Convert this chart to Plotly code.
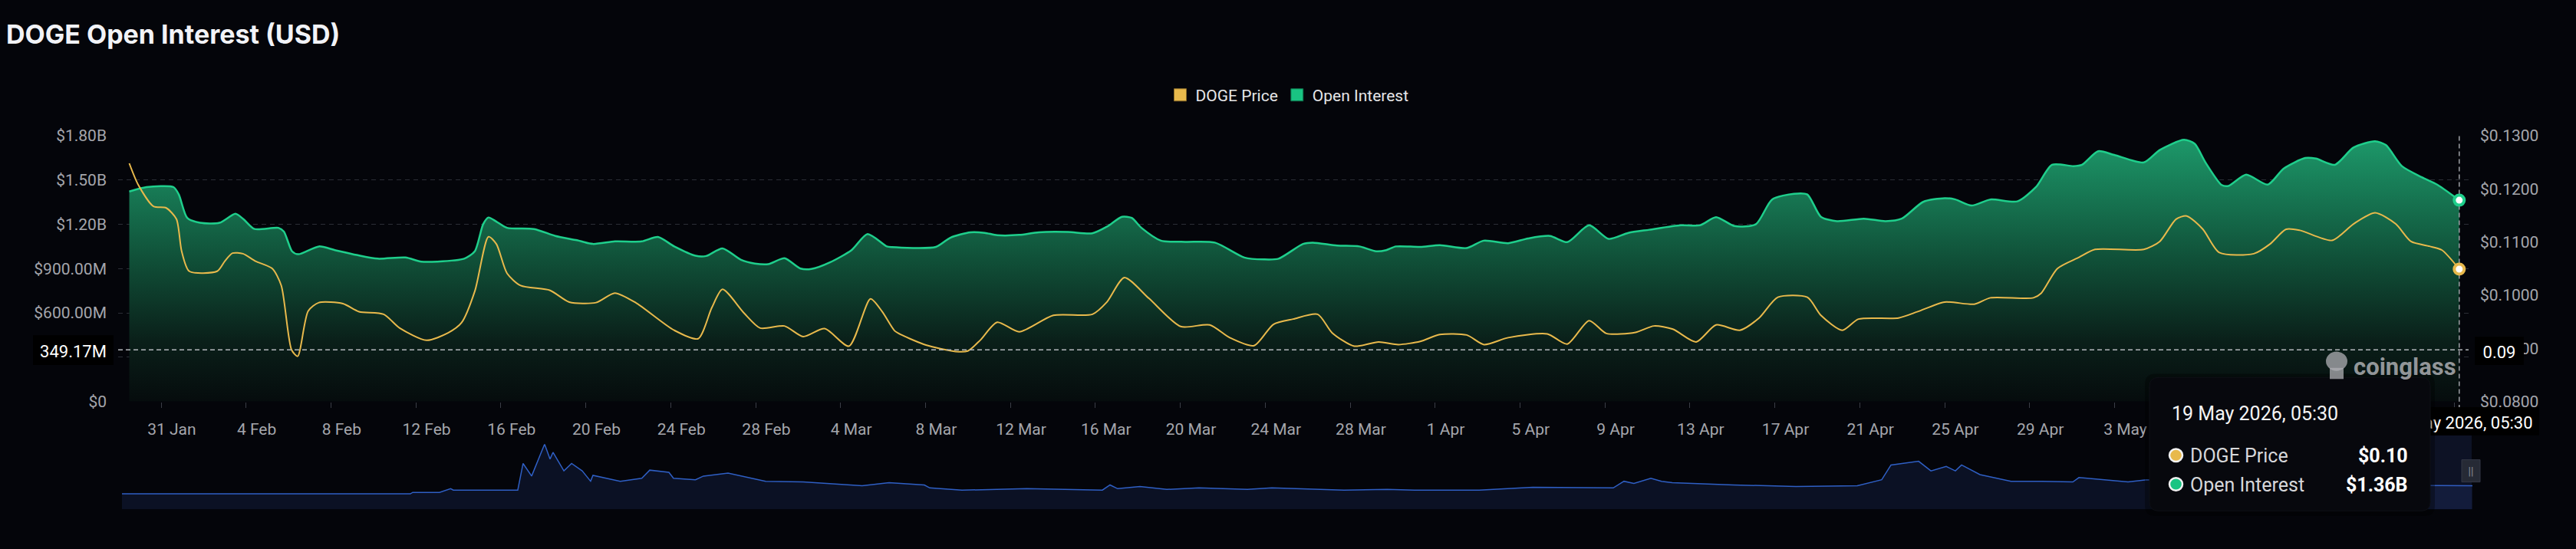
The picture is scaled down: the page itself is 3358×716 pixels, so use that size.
import pandas as pd
import plotly.graph_objects as go

# ---------------- data ----------------
oi_dates = [
    "2026-01-29 12:00", "2026-01-30 07:30", "2026-01-31 14:00", "2026-01-31 20:00", "2026-02-01 05:30",
    "2026-02-01 20:00", "2026-02-02 18:00", "2026-02-03 12:00", "2026-02-03 21:00", "2026-02-04 09:30",
    "2026-02-05 12:30", "2026-02-05 18:45", "2026-02-06 04:00", "2026-02-06 11:00", "2026-02-07 10:20",
    "2026-02-08 04:30", "2026-02-09 05:00", "2026-02-10 05:00", "2026-02-11 12:00", "2026-02-12 06:00",
    "2026-02-13 00:00", "2026-02-14 06:30", "2026-02-14 18:30", "2026-02-15 04:00", "2026-02-15 10:00",
    "2026-02-15 19:00", "2026-02-16 07:00", "2026-02-17 13:30", "2026-02-18 13:40", "2026-02-19 14:00",
    "2026-02-20 08:00", "2026-02-21 09:00", "2026-02-22 15:00", "2026-02-23 09:30", "2026-02-24 04:00",
    "2026-02-25 04:00", "2026-02-25 16:00", "2026-02-26 10:30", "2026-02-27 07:30", "2026-02-27 23:00",
    "2026-02-28 14:15", "2026-03-01 08:30", "2026-03-02 02:40", "2026-03-02 15:00", "2026-03-03 12:00",
    "2026-03-04 12:20", "2026-03-05 06:30", "2026-03-06 04:15", "2026-03-06 10:00", "2026-03-08 11:45",
    "2026-03-09 04:00", "2026-03-10 02:45", "2026-03-10 19:00", "2026-03-11 09:00", "2026-03-12 10:00",
    "2026-03-13 08:00", "2026-03-14 17:00", "2026-03-15 20:30", "2026-03-16 13:00", "2026-03-17 06:00",
    "2026-03-17 17:00", "2026-03-18 04:00", "2026-03-19 02:10", "2026-03-20 05:30", "2026-03-21 15:00",
    "2026-03-23 00:20", "2026-03-23 22:20", "2026-03-24 15:00", "2026-03-25 18:40", "2026-03-26 05:30",
    "2026-03-27 09:10", "2026-03-28 10:20", "2026-03-29 05:20", "2026-03-29 16:40", "2026-03-30 03:40",
    "2026-03-31 07:15", "2026-04-01 05:20", "2026-04-02 11:40", "2026-04-03 06:50", "2026-04-04 10:30",
    "2026-04-05 09:00", "2026-04-06 09:50", "2026-04-07 05:20", "2026-04-08 06:00", "2026-04-09 04:00",
    "2026-04-10 02:20", "2026-04-11 02:00", "2026-04-12 13:40", "2026-04-13 11:20", "2026-04-14 05:30",
    "2026-04-15 02:20", "2026-04-16 02:35", "2026-04-16 20:50", "2026-04-17 21:30", "2026-04-18 12:40",
    "2026-04-19 04:00", "2026-04-19 22:10", "2026-04-21 04:30", "2026-04-22 05:00", "2026-04-22 23:20",
    "2026-04-23 23:40", "2026-04-24 23:50", "2026-04-25 12:00", "2026-04-26 06:15", "2026-04-27 03:35",
    "2026-04-28 10:00", "2026-04-29 07:05", "2026-04-30 01:15", "2026-05-01 01:30", "2026-05-01 11:05",
    "2026-05-02 05:20", "2026-05-02 23:30", "2026-05-04 09:00", "2026-05-05 03:00", "2026-05-06 06:25",
    "2026-05-06 18:30", "2026-05-07 06:40", "2026-05-08 01:00", "2026-05-08 08:45", "2026-05-09 04:40",
    "2026-05-10 05:00", "2026-05-10 23:10", "2026-05-11 23:25", "2026-05-12 11:35", "2026-05-13 08:50",
    "2026-05-14 06:00", "2026-05-15 06:20", "2026-05-15 18:30", "2026-05-16 12:40", "2026-05-17 11:10",
    "2026-05-18 04:30", "2026-05-19 05:30",
]
oi_billions = [
    1.422, 1.452, 1.452, 1.402, 1.243, 1.210, 1.210, 1.271, 1.235, 1.168,
    1.176, 1.151, 1.017, 0.997, 1.050, 1.025, 0.992, 0.967, 0.975, 0.947,
    0.947, 0.967, 1.017, 1.201, 1.246, 1.218, 1.176, 1.168, 1.121, 1.092,
    1.067, 1.084, 1.084, 1.114, 1.050, 0.987, 0.985, 1.037, 0.959, 0.934,
    0.930, 0.970, 0.900, 0.897, 0.942, 1.025, 1.134, 1.050, 1.045, 1.047,
    1.109, 1.146, 1.142, 1.126, 1.128, 1.146, 1.148, 1.139, 1.184, 1.251,
    1.243, 1.176, 1.089, 1.081, 1.076, 0.975, 0.962, 0.967, 1.067, 1.076,
    1.056, 1.050, 1.017, 1.025, 1.050, 1.047, 1.059, 1.039, 1.089, 1.072,
    1.104, 1.121, 1.079, 1.193, 1.101, 1.142, 1.163, 1.193, 1.193, 1.248,
    1.188, 1.201, 1.368, 1.407, 1.402, 1.251, 1.221, 1.238, 1.221, 1.238,
    1.352, 1.377, 1.368, 1.327, 1.368, 1.355, 1.452, 1.603, 1.594, 1.603,
    1.695, 1.670, 1.619, 1.703, 1.773, 1.745, 1.619, 1.466, 1.460, 1.536,
    1.469, 1.578, 1.649, 1.645, 1.603, 1.720, 1.762, 1.737, 1.594, 1.519,
    1.469, 1.363,
]

price_dates = [
    "2026-01-29 12:00", "2026-01-29 22:00", "2026-01-30 15:20", "2026-01-31 05:50", "2026-01-31 17:20",
    "2026-01-31 23:10", "2026-02-01 07:50", "2026-02-02 15:20", "2026-02-03 00:00", "2026-02-03 08:40",
    "2026-02-03 20:30", "2026-02-04 10:40", "2026-02-05 05:40", "2026-02-05 15:50", "2026-02-06 03:25",
    "2026-02-06 10:20", "2026-02-06 22:10", "2026-02-07 10:20", "2026-02-08 13:30", "2026-02-09 07:40",
    "2026-02-10 11:30", "2026-02-11 05:40", "2026-02-12 12:00", "2026-02-13 12:20", "2026-02-14 03:30",
    "2026-02-14 18:40", "2026-02-15 10:00", "2026-02-15 19:00", "2026-02-16 07:00", "2026-02-16 22:20",
    "2026-02-18 07:40", "2026-02-19 05:20", "2026-02-20 11:40", "2026-02-21 08:50", "2026-02-22 09:10",
    "2026-02-24 03:50", "2026-02-25 07:00", "2026-02-25 22:20", "2026-02-26 10:30", "2026-02-27 11:00",
    "2026-02-28 05:10", "2026-03-01 08:30", "2026-03-02 05:40", "2026-03-03 06:00", "2026-03-04 09:30",
    "2026-03-05 09:45", "2026-03-05 23:00", "2026-03-06 13:00", "2026-03-06 21:10", "2026-03-08 00:30",
    "2026-03-09 10:00", "2026-03-09 23:45", "2026-03-10 13:40", "2026-03-11 09:00", "2026-03-12 10:00",
    "2026-03-14 00:25", "2026-03-15 20:40", "2026-03-16 13:00", "2026-03-17 08:45", "2026-03-18 12:25",
    "2026-03-20 00:20", "2026-03-21 09:15", "2026-03-22 07:50", "2026-03-23 11:20", "2026-03-24 09:10",
    "2026-03-25 07:30", "2026-03-26 11:10", "2026-03-27 03:40", "2026-03-28 04:35", "2026-03-29 08:00",
    "2026-03-30 06:25", "2026-03-31 07:15", "2026-04-01 05:20", "2026-04-02 11:40", "2026-04-03 07:10",
    "2026-04-04 10:30", "2026-04-06 06:45", "2026-04-07 05:20", "2026-04-08 06:00", "2026-04-09 01:30",
    "2026-04-10 10:30", "2026-04-11 07:20", "2026-04-12 04:40", "2026-04-13 07:00", "2026-04-14 05:30",
    "2026-04-15 08:25", "2026-04-16 06:05", "2026-04-17 03:20", "2026-04-18 12:40", "2026-04-19 04:00",
    "2026-04-20 04:15", "2026-04-20 22:30", "2026-04-22 19:50", "2026-04-23 17:30", "2026-04-24 23:50",
    "2026-04-26 09:20", "2026-04-27 03:35", "2026-04-29 04:15", "2026-04-29 13:10", "2026-04-30 07:20",
    "2026-05-01 07:40", "2026-05-02 01:50", "2026-05-04 09:00", "2026-05-05 03:00", "2026-05-05 21:25",
    "2026-05-06 09:30", "2026-05-07 03:45", "2026-05-07 22:20", "2026-05-09 13:20", "2026-05-10 07:30",
    "2026-05-11 01:45", "2026-05-11 17:20", "2026-05-13 05:45", "2026-05-14 06:00", "2026-05-15 06:20",
    "2026-05-16 05:45", "2026-05-16 23:00", "2026-05-17 19:50", "2026-05-18 09:45", "2026-05-19 05:30",
]
price_usd = [
    0.1248, 0.1208, 0.1167, 0.1164, 0.1143, 0.1083, 0.1045, 0.1045, 0.1064, 0.1079,
    0.1078, 0.1064, 0.1050, 0.1018, 0.0897, 0.0885, 0.0970, 0.0986, 0.0984, 0.0969,
    0.0964, 0.0938, 0.0915, 0.0929, 0.0948, 0.1008, 0.1110, 0.1096, 0.1041, 0.1018,
    0.1009, 0.0987, 0.0986, 0.1004, 0.0985, 0.0934, 0.0918, 0.0976, 0.1011, 0.0966,
    0.0938, 0.0942, 0.0922, 0.0937, 0.0904, 0.0993, 0.0969, 0.0933, 0.0925, 0.0906,
    0.0894, 0.0895, 0.0915, 0.0949, 0.0931, 0.0962, 0.0964, 0.0987, 0.1033, 0.0994,
    0.0941, 0.0944, 0.0920, 0.0905, 0.0945, 0.0955, 0.0964, 0.0929, 0.0904, 0.0912,
    0.0907, 0.0913, 0.0926, 0.0925, 0.0907, 0.0920, 0.0927, 0.0908, 0.0952, 0.0928,
    0.0930, 0.0942, 0.0936, 0.0912, 0.0944, 0.0934, 0.0957, 0.0996, 0.0996, 0.0962,
    0.0934, 0.0955, 0.0957, 0.0969, 0.0987, 0.0983, 0.0995, 0.0995, 0.1004, 0.1050,
    0.1071, 0.1086, 0.1086, 0.1101, 0.1143, 0.1149, 0.1124, 0.1080, 0.1078, 0.1096,
    0.1124, 0.1122, 0.1103, 0.1134, 0.1155, 0.1134, 0.1101, 0.1092, 0.1085, 0.1049,
]

# overview (range-slider style) series, arbitrary units
mini_dates = [
    "2026-01-29 03:50", "2026-02-11 17:45", "2026-02-11 20:25", "2026-02-13 02:40", "2026-02-13 15:20",
    "2026-02-13 18:20", "2026-02-16 19:10", "2026-02-17 01:10", "2026-02-17 10:50", "2026-02-18 01:30",
    "2026-02-18 07:40", "2026-02-18 11:00", "2026-02-18 23:20", "2026-02-19 08:00", "2026-02-19 20:00",
    "2026-02-20 05:30", "2026-02-20 08:10", "2026-02-21 15:00", "2026-02-22 15:20", "2026-02-23 00:20",
    "2026-02-23 22:00", "2026-02-24 03:10", "2026-02-25 04:00", "2026-02-25 13:00", "2026-02-26 16:50",
    "2026-02-28 05:15", "2026-02-28 11:20", "2026-03-02 05:45", "2026-03-03 12:00", "2026-03-05 00:25",
    "2026-03-06 06:50", "2026-03-07 22:45", "2026-03-08 04:50", "2026-03-09 17:15", "2026-03-12 18:30",
    "2026-03-16 07:55", "2026-03-16 16:35", "2026-03-17 01:10", "2026-03-18 02:25", "2026-03-19 08:40",
    "2026-03-20 21:05", "2026-03-23 03:45", "2026-03-24 07:30", "2026-03-25 16:20", "2026-03-27 17:00",
    "2026-03-29 18:00", "2026-03-31 00:45", "2026-04-03 01:40", "2026-04-05 14:20", "2026-04-09 09:20",
    "2026-04-09 21:25", "2026-04-10 08:40", "2026-04-11 03:50", "2026-04-11 15:55", "2026-04-12 04:00",
    "2026-04-15 01:30", "2026-04-17 23:45", "2026-04-20 21:10", "2026-04-22 00:45", "2026-04-22 11:15",
    "2026-04-23 18:30", "2026-04-24 08:25", "2026-04-25 01:40", "2026-04-25 12:00", "2026-04-25 19:00",
    "2026-04-26 15:50", "2026-04-28 02:55", "2026-04-29 13:55", "2026-05-01 00:45", "2026-05-01 07:40",
    "2026-05-02 11:20", "2026-05-03 15:10", "2026-05-04 12:00", "2026-05-08 00:00", "2026-05-13 00:00",
    "2026-05-17 20:00", "2026-05-19 20:25",
]
mini_values = [
    21, 21, 23, 23, 28, 26, 26, 62, 45, 88,
    68, 77, 52, 62, 52, 38, 46, 38, 42, 53,
    50, 42, 40, 45, 49, 40, 38, 37, 35, 32,
    36, 33, 29, 26, 28, 26, 33, 28, 31, 27,
    29, 27, 29, 28, 26, 27, 26, 26, 30, 29,
    38, 35, 42, 38, 36, 33, 31, 32, 40, 60,
    65, 52, 58, 52, 60, 47, 38, 38, 37, 43,
    40, 37, 40, 36, 33, 32, 32,
]

# labelled dates (those hidden behind the tooltip in the reference are left out)
x_tick_dates = [
    "2026-01-31", "2026-02-04", "2026-02-08", "2026-02-12", "2026-02-16", "2026-02-20", "2026-02-24",
    "2026-02-28", "2026-03-04", "2026-03-08", "2026-03-12", "2026-03-16", "2026-03-20", "2026-03-24",
    "2026-03-28", "2026-04-01", "2026-04-05", "2026-04-09", "2026-04-13", "2026-04-17", "2026-04-21",
    "2026-04-25", "2026-04-29", "2026-05-03",
]
x_tick_labels = [
    "31 Jan", "4 Feb", "8 Feb", "12 Feb", "16 Feb", "20 Feb", "24 Feb",
    "28 Feb", "4 Mar", "8 Mar", "12 Mar", "16 Mar", "20 Mar", "24 Mar",
    "28 Mar", "1 Apr", "5 Apr", "9 Apr", "13 Apr", "17 Apr", "21 Apr",
    "25 Apr", "29 Apr", "3 May",
]
left_tick_values = [0, 0.3, 0.6, 0.9, 1.2, 1.5, 1.8]
left_tick_labels = ["$0", "", "$600.00M", "$900.00M", "$1.20B", "$1.50B", "$1.80B"]
right_tick_values = [0.08, 0.09, 0.10, 0.11, 0.12, 0.13]
right_tick_labels = ["$0.0800", "$0.0900", "$0.1000", "$0.1100", "$0.1200", "$0.1300"]

left_range = [0, 1.8]
right_range = [0.08, 0.13]
x_range = ["2026-01-28 23:25", "2026-05-19 16:05"]
mini_range = ["2026-01-29 03:50", "2026-05-19 20:25"]
crosshair_oi = 0.34917          # billions -> "349.17M"
crosshair_price_label = "0.09"
crosshair_time_label = "19 May 2026, 05:30"
tooltip_price = "$0.10"
tooltip_oi = "$1.36B"

# ---------------- styling ----------------
W, H = 3358, 716
def px(x):
    return x / W
def py(y):
    return 1 - y / H

BG = "#04050a"
GRID = "#2b2e36"
AXIS_TXT = "#a4a6ac"
OI_COLOR = "#1fcf8c"
PRICE_COLOR = "#e8b94c"
FONT = "Roboto"

tick_positions = (pd.to_datetime(x_tick_dates) + pd.Timedelta(hours=12)).strftime("%Y-%m-%d %H:%M").tolist()

fig = go.Figure()

fig.add_trace(go.Scatter(
    x=oi_dates, y=oi_billions, mode="lines", name="Open Interest",
    line=dict(color=OI_COLOR, width=2.5, shape="spline", smoothing=0.7),
    fill="tozeroy",
    fillgradient=dict(type="vertical",
                      colorscale=[[0, "#05090b"], [0.25, "#0a1f19"], [0.55, "#105038"], [1, "#1d9a6b"]],
                      start=0, stop=1.8),
    showlegend=False, hoverinfo="skip"))

fig.add_trace(go.Scatter(
    x=price_dates, y=price_usd, mode="lines", name="DOGE Price", yaxis="y2",
    line=dict(color=PRICE_COLOR, width=2, shape="spline", smoothing=0.7),
    showlegend=False, hoverinfo="skip"))

# vertical crosshair through the latest point
fig.add_trace(go.Scatter(
    x=[oi_dates[-1], oi_dates[-1]], y=left_range, mode="lines",
    line=dict(color="#9ea1a6", width=1.5, dash="6px,4px"),
    showlegend=False, hoverinfo="skip", cliponaxis=False))

fig.add_trace(go.Scatter(
    x=[oi_dates[-1]], y=[oi_billions[-1]], mode="markers",
    marker=dict(size=13, color="white", line=dict(color=OI_COLOR, width=4)),
    showlegend=False, hoverinfo="skip", cliponaxis=False))
fig.add_trace(go.Scatter(
    x=[price_dates[-1]], y=[price_usd[-1]], mode="markers", yaxis="y2",
    marker=dict(size=13, color="white", line=dict(color=PRICE_COLOR, width=4)),
    showlegend=False, hoverinfo="skip", cliponaxis=False))

# overview strip
fig.add_trace(go.Scatter(
    x=mini_dates, y=mini_values, mode="lines", xaxis="x2", yaxis="y3",
    line=dict(color="#2f5fc4", width=1.5), fill="tozeroy", fillcolor="#0b1124",
    showlegend=False, hoverinfo="skip"))

# legend entries (square swatches)
fig.add_trace(go.Scatter(x=[None], y=[None], mode="markers", name="DOGE Price",
                         marker=dict(symbol="square", size=16, color=PRICE_COLOR,
                                     line=dict(color="#8a6d2a", width=1))))
fig.add_trace(go.Scatter(x=[None], y=[None], mode="markers", name="Open Interest",
                         marker=dict(symbol="square", size=16, color="#19c482",
                                     line=dict(color="#0e6e49", width=1))))

tickfont = dict(family=FONT, size=21, color=AXIS_TXT)

shapes = []
# horizontal crosshair
shapes.append(dict(type="line", xref="x domain", yref="y", x0=0, x1=1, y0=crosshair_oi, y1=crosshair_oi,
                   line=dict(color="#b4b7bc", width=1.5, dash="6px,4px"), layer="above"))
# extension of vertical crosshair down to the date label
shapes.append(dict(type="line", xref="x", yref="paper", x0=oi_dates[-1], x1=oi_dates[-1],
                   y0=py(540), y1=py(529), line=dict(color="#9ea1a6", width=1.5, dash="6px,4px"), layer="above"))
# overview highlight + handle
shapes.append(dict(type="rect", xref="paper", yref="paper", x0=px(3150), x1=px(3222), y0=py(675), y1=py(575),
                   fillcolor="rgba(60,90,180,0.16)", line=dict(width=0), layer="above"))
shapes.append(dict(type="rect", xref="paper", yref="paper", x0=px(3209), x1=px(3233), y0=py(638), y1=py(608),
                   fillcolor="#262a35", line=dict(color="#343846", width=1), layer="above",
                   label=dict(text="||", font=dict(family=FONT, size=14, color="#8a8d96"),
                              textposition="middle center")))
# crosshair axis labels
shapes.append(dict(type="rect", xref="paper", yref="paper", x0=px(43), x1=px(148), y0=py(480), y1=py(440),
                   fillcolor="#000000", line=dict(width=0), layer="above",
                   label=dict(text=f"{crosshair_oi * 1000:.2f}M", font=dict(family=FONT, size=22, color="white"),
                              textposition="middle center")))
shapes.append(dict(type="rect", xref="paper", yref="paper", x0=px(3226), x1=px(3290), y0=py(480), y1=py(442),
                   fillcolor="#000000", line=dict(width=0), layer="above",
                   label=dict(text=crosshair_price_label, font=dict(family=FONT, size=22, color="white"),
                              textposition="middle center")))
shapes.append(dict(type="rect", xref="paper", yref="paper", x0=px(3102), x1=px(3310), y0=py(575), y1=py(537),
                   fillcolor="#000000", line=dict(width=0), layer="above",
                   label=dict(text=crosshair_time_label, font=dict(family=FONT, size=22, color="white"),
                              textposition="middle center")))

# tooltip box (rounded)
def rounded(x0, y0, x1, y1, r):
    rx, ry = r / W, r / H
    X0, X1, Y0, Y1 = px(x0), px(x1), py(y1), py(y0)
    return (f"M {X0+rx},{Y0} L {X1-rx},{Y0} Q {X1},{Y0} {X1},{Y0+ry} L {X1},{Y1-ry} "
            f"Q {X1},{Y1} {X1-rx},{Y1} L {X0+rx},{Y1} Q {X0},{Y1} {X0},{Y1-ry} L {X0},{Y0+ry} "
            f"Q {X0},{Y0} {X0+rx},{Y0} Z")

shapes.append(dict(type="path", xref="paper", yref="paper", path=rounded(2796, 492, 3174, 684, 14),
                   fillcolor="rgba(0,0,0,0.35)", line=dict(width=0), layer="above"))
shapes.append(dict(type="path", xref="paper", yref="paper", path=rounded(2802, 497, 3168, 677, 12),
                   fillcolor="#07080d", line=dict(color="#0e1016", width=1), layer="above"))
for cy, col in [(602, PRICE_COLOR), (641, "#19c482")]:
    shapes.append(dict(type="circle", xref="paper", yref="paper", x0=px(2828), x1=px(2845),
                       y0=py(cy + 8.5), y1=py(cy - 8.5), fillcolor=col,
                       line=dict(color="#f2f2f2", width=2.5), layer="above"))

# watermark logo (simple silhouette)
shapes.append(dict(type="circle", xref="paper", yref="paper", x0=px(3032), x1=px(3060), y0=py(488), y1=py(462),
                   fillcolor="rgba(175,175,180,0.75)", line=dict(width=0), layer="above"))
shapes.append(dict(type="rect", xref="paper", yref="paper", x0=px(3037), x1=px(3055), y0=py(499), y1=py(484),
                   fillcolor="rgba(175,175,180,0.75)", line=dict(width=0), layer="above"))

annotations = [
    dict(text="<b>DOGE Open Interest (USD)</b>", xref="paper", yref="paper", x=px(6), y=py(34),
         xanchor="left", yanchor="middle", showarrow=False,
         font=dict(family="Inter", size=34, color="#f2f3f7")),
    dict(text="<b>coinglass</b>", xref="paper", yref="paper", x=px(3204), y=py(483),
         xanchor="right", yanchor="middle", showarrow=False,
         font=dict(family=FONT, size=31, color="rgba(185,186,190,0.8)")),
    dict(text=crosshair_time_label, xref="paper", yref="paper", x=px(2829), y=py(546),
         xanchor="left", yanchor="middle", showarrow=False,
         font=dict(family=FONT, size=25, color="#f4f4f4")),
    dict(text="DOGE Price", xref="paper", yref="paper", x=px(2853), y=py(603),
         xanchor="left", yanchor="middle", showarrow=False,
         font=dict(family=FONT, size=25, color="#d6d7da")),
    dict(text="Open Interest", xref="paper", yref="paper", x=px(2853), y=py(642),
         xanchor="left", yanchor="middle", showarrow=False,
         font=dict(family=FONT, size=25, color="#d6d7da")),
    dict(text=f"<b>{tooltip_price}</b>", xref="paper", yref="paper", x=px(3141), y=py(603),
         xanchor="right", yanchor="middle", showarrow=False,
         font=dict(family=FONT, size=25, color="#ffffff")),
    dict(text=f"<b>{tooltip_oi}</b>", xref="paper", yref="paper", x=px(3141), y=py(642),
         xanchor="right", yanchor="middle", showarrow=False,
         font=dict(family=FONT, size=25, color="#ffffff")),
]

fig.update_layout(
    width=W, height=H, autosize=False,
    margin=dict(l=0, r=0, t=0, b=0),
    paper_bgcolor=BG, plot_bgcolor=BG,
    hovermode=False,
    font=dict(family=FONT, color=AXIS_TXT),
    showlegend=True,
    legend=dict(orientation="h", x=px(1680), xanchor="center", y=py(116), yanchor="middle",
                font=dict(family=FONT, size=21, color="#e6e6e8"), bgcolor="rgba(0,0,0,0)",
                itemsizing="trace", traceorder="normal"),
    xaxis=dict(domain=[px(154), px(3218)], anchor="y", type="date", range=x_range,
               tickmode="array", tickvals=tick_positions, ticktext=x_tick_labels,
               ticks="", tickfont=tickfont, showgrid=False, zeroline=False, showline=False,
               ticklabelstandoff=21,
               minor=dict(ticks="outside", ticklen=7, tickwidth=1, tickcolor="#3a3d46",
                          tick0="2026-01-31", dtick=4 * 86400000, showgrid=False)),
    yaxis=dict(domain=[py(529.3), py(170.7)], anchor="x", range=left_range,
               tickmode="array", tickvals=left_tick_values, ticktext=left_tick_labels,
               tickfont=tickfont, showgrid=True, gridcolor=GRID, griddash="6px,5px", gridwidth=1,
               zeroline=False, showline=False, ticks="", ticklabelstandoff=14),
    yaxis2=dict(overlaying="y", side="right", anchor="x", range=right_range,
                tickmode="array", tickvals=right_tick_values, ticktext=right_tick_labels,
                tickfont=tickfont, showgrid=False, zeroline=False, showline=False, ticks="",
                ticklabelstandoff=14),
    xaxis2=dict(domain=[px(159), px(3223)], anchor="y3", type="date", range=mini_range,
                showticklabels=False, showgrid=False, zeroline=False, showline=False, ticks=""),
    yaxis3=dict(domain=[py(675), py(587)], anchor="x2", range=[0, 88], visible=False),
    shapes=shapes,
    annotations=annotations,
)

fig.write_html("out.html")
